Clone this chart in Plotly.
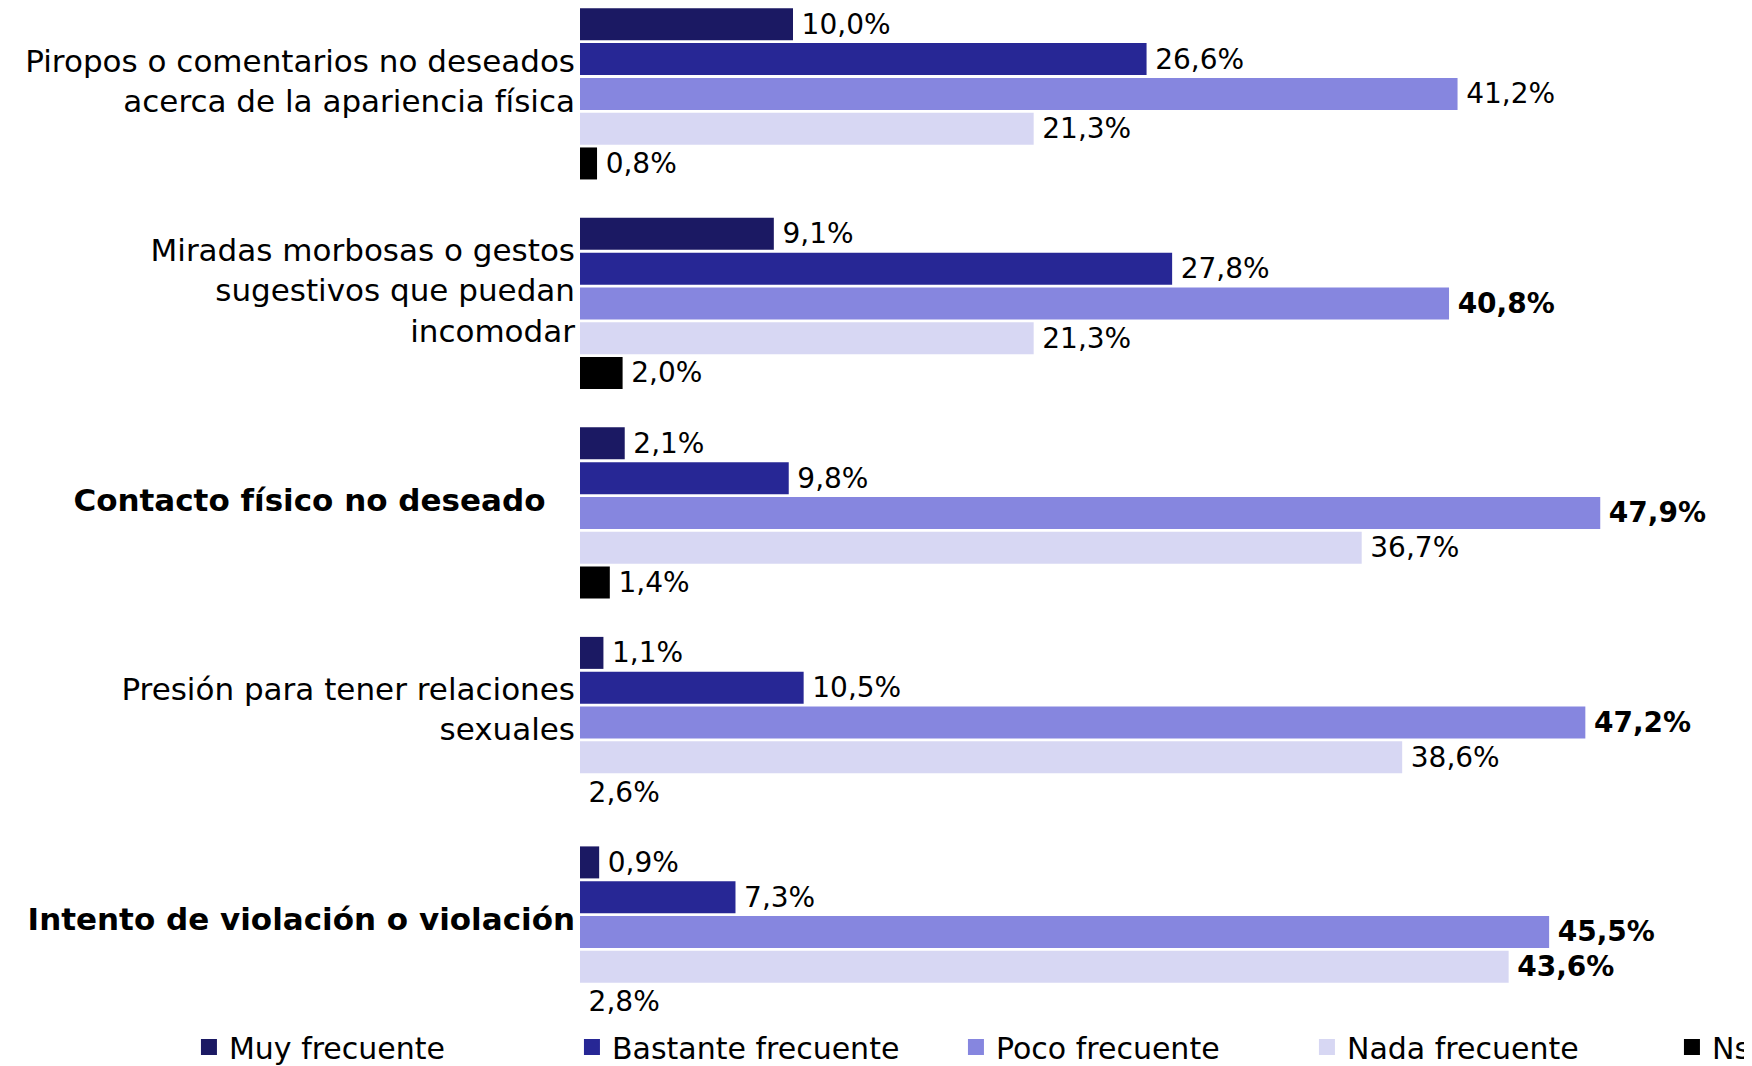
import plotly.graph_objects as go

# categories, top to bottom
categories = [
    "Piropos o comentarios no deseados<br>acerca de la apariencia física",
    "Miradas morbosas o gestos<br>sugestivos que puedan<br>incomodar",
    "<b>Contacto físico no deseado</b>\u00a0\u00a0\u00a0",
    "Presión para tener relaciones<br>sexuales",
    "<b>Intento de violación o violación</b>",
]

muy = [10.0, 9.1, 2.1, 1.1, 0.9]
bastante = [26.6, 27.8, 9.8, 10.5, 7.3]
poco = [41.2, 40.8, 47.9, 47.2, 45.5]
nada = [21.3, 21.3, 36.7, 38.6, 43.6]
ns = [0.8, 2.0, 1.4, 2.6, 2.8]
ns_bar_drawn = [True, True, True, False, False]

# which labels are shown in bold
bold_poco = [False, True, True, True, True]
bold_nada = [False, False, False, False, True]

series_names = ["Muy frecuente", "Bastante frecuente", "Poco frecuente", "Nada frecuente", "Ns"]
colors = ["#1b1963", "#272795", "#8686df", "#d7d7f3", "#000000"]
legend_widths = [338, 339, 306, 320, 40]

FONT = "DejaVu Sans"


def fmt(v, bold=False):
    s = f"{v:.1f}".replace(".", ",") + "%"
    s = f"<b>{s}</b>" if bold else s
    return "\u2009" + s


fig = go.Figure()
all_series = [
    (muy, [False] * 5, [True] * 5),
    (bastante, [False] * 5, [True] * 5),
    (poco, bold_poco, [True] * 5),
    (nada, bold_nada, [True] * 5),
    (ns, [False] * 5, ns_bar_drawn),
]
for (vals, bolds, drawn), name, color in zip(all_series, series_names, colors):
    fig.add_trace(go.Bar(
        y=categories,
        x=[v if d else 0 for v, d in zip(vals, drawn)],
        orientation="h",
        name=name,
        showlegend=False,
        marker=dict(color=color, line=dict(width=0)),
        text=[fmt(v, b) for v, b in zip(vals, bolds)],
        textposition="outside",
        constraintext="none",
        cliponaxis=False,
        textfont=dict(family=FONT, size=28, color="black"),
    ))

# legend entries with larger square swatches
for name, color, lw in zip(series_names, colors, legend_widths):
    fig.add_trace(go.Scatter(
        x=[None], y=[None],
        mode="markers",
        name=name,
        marker=dict(symbol="square", size=20, color=color),
        legendwidth=lw,
    ))

fig.update_layout(
    width=1752,
    height=1066,
    barmode="group",
    bargap=0.17,
    bargroupgap=0.08,
    plot_bgcolor="white",
    paper_bgcolor="white",
    font=dict(family=FONT, size=30, color="black"),
    margin=dict(l=572, r=0, t=0, b=53, autoexpand=False),
    xaxis=dict(range=[0, 55.4], visible=False),
    yaxis=dict(
        range=[4.425, -0.410],
        showline=False,
        showgrid=False,
        ticks="",
        automargin=False,
        ticklabelstandoff=4,
        ticklabelshift=13,
        tickfont=dict(family=FONT, size=31, color="black"),
    ),
    legend=dict(
        orientation="h",
        x=-0.3314,
        xanchor="left",
        y=0,
        yanchor="top",
        font=dict(family=FONT, size=30, color="black"),
        traceorder="normal",
    ),
)

fig.write_html("out.html")
